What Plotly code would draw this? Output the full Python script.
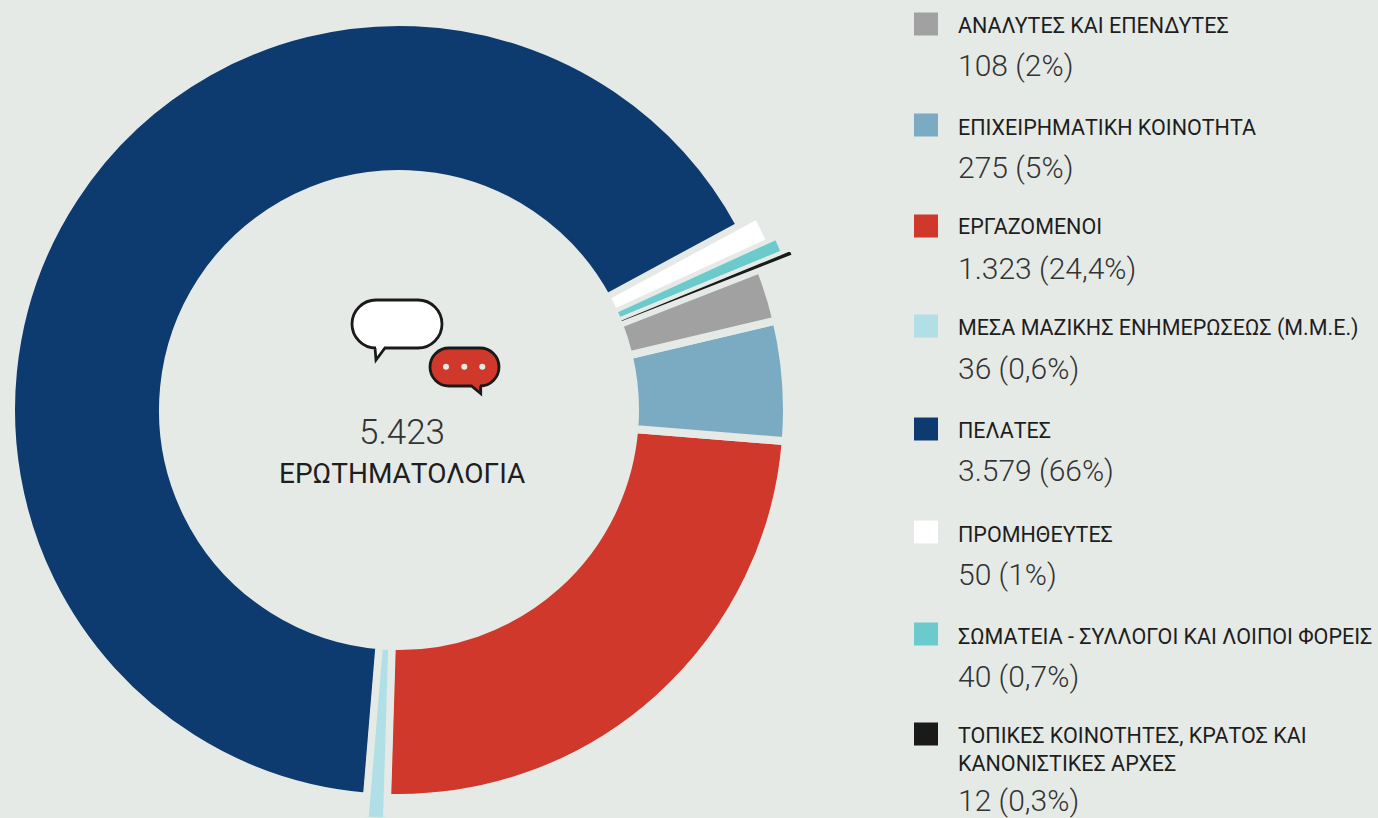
import plotly.graph_objects as go

W, H = 1378, 818
BG = "#E6EAE7"
INK = "#1E1E1E"

categories = ["ΠΕΛΑΤΕΣ", "ΠΡΟΜΗΘΕΥΤΕΣ", "ΣΩΜΑΤΕΙΑ - ΣΥΛΛΟΓΟΙ ΚΑΙ ΛΟΙΠΟΙ ΦΟΡΕΙΣ",
              "ΤΟΠΙΚΕΣ ΚΟΙΝΟΤΗΤΕΣ, ΚΡΑΤΟΣ ΚΑΙ<br>ΚΑΝΟΝΙΣΤΙΚΕΣ ΑΡΧΕΣ", "ΑΝΑΛΥΤΕΣ ΚΑΙ ΕΠΕΝΔΥΤΕΣ",
              "ΕΠΙΧΕΙΡΗΜΑΤΙΚΗ ΚΟΙΝΟΤΗΤΑ", "ΕΡΓΑΖΟΜΕΝΟΙ", "ΜΕΣΑ ΜΑΖΙΚΗΣ ΕΝΗΜΕΡΩΣΕΩΣ (Μ.Μ.Ε.)"]
# angular share of each slice, clockwise from the first one (degrees)
slice_degrees = [236.86, 3.85, 2.2, 1.05, 7.94, 17.98, 87.13, 2.99]
slice_colors = ["#0E3B6F", "#FFFFFF", "#6ACACC", "#1A1A1A", "#A1A1A1", "#7BABC2", "#D0382B", "#B1DFE6"]
# outer radius of each slice; the small slices stick out of the ring
slice_outer = [384, 404, 413, 422, 384, 384, 384, 430]
slice_gap = [8, 5.5, 4, 4, 8, 8, 8, 7]
inner_radius = 240
first_slice_end = 28.4   # angle where the first slice ends, going clockwise from there

legend_order = [4, 5, 6, 7, 0, 1, 2, 3]
legend_values = ["108 (2%)", "275 (5%)", "1.323 (24,4%)", "36 (0,6%)", "3.579 (66%)",
                 "50 (1%)", "40 (0,7%)", "12 (0,3%)"]
legend_label_y = [26, 127, 227, 328, 431, 534, 636, 749]
legend_value_y = [66, 167, 268, 368, 471, 574, 676, 800]
legend_square_y = [24, 125, 226, 326, 429, 532, 634, 734]
total_label = "5.423"
total_title = "ΕΡΩΤΗΜΑΤΟΛΟΓΙΑ"

# slice centres, clockwise from the end of the first slice
thetas = []
pos = first_slice_end
for i in list(range(1, 8)) + [0]:
    thetas.append((i, pos - slice_degrees[i] / 2))
    pos -= slice_degrees[i]
theta_of = dict(thetas)

CX, CY = 399, 410


def px(x):
    return x / W


def py(y):
    return 1 - y / H


def bars(idx, subplot):
    return go.Barpolar(
        subplot=subplot,
        theta=[theta_of[i] for i in idx],
        width=[slice_degrees[i] for i in idx],
        base=[inner_radius - slice_gap[i] / 2 for i in idx],
        r=[slice_outer[i] - inner_radius + slice_gap[i] for i in idx],
        marker=dict(color=[slice_colors[i] for i in idx],
                    line=dict(color=BG, width=[slice_gap[i] for i in idx])),
        hoverinfo="skip", showlegend=False)


fig = go.Figure()
fig.add_trace(bars([0, 6, 5, 4], "polar"))
fig.add_trace(bars([7], "polar3"))
fig.add_trace(bars([1, 2, 3], "polar2"))


def polar(dom_x, dom_y, r, sector):
    return dict(domain=dict(x=[px(dom_x[0]), px(dom_x[1])], y=[py(dom_y[1]), py(dom_y[0])]),
                sector=sector, bgcolor="rgba(0,0,0,0)", barmode="overlay",
                radialaxis=dict(visible=False, range=[0, r]),
                angularaxis=dict(visible=False, thetaunit="degrees"))


main_r = 399
top_r = 430
bottom_r = 408
fig.update_layout(
    width=W, height=H, autosize=False, margin=dict(l=0, r=0, t=0, b=0, pad=0),
    paper_bgcolor=BG, plot_bgcolor=BG, showlegend=False,
    polar=polar((CX - main_r, CX + main_r), (CY - main_r, CY + main_r), main_r, [0, 360]),
    polar2=polar((CX, CX + top_r), (CY - top_r * 0.70711, CY), top_r, [0, 45]),
    polar3=polar((CX - bottom_r * 0.17365, CX), (CY, CY + bottom_r), bottom_r, [260, 270]),
)

annotations = []
shapes = []


def text(x, y, s, size, family, color=INK, anchor="left", weight=400):
    annotations.append(dict(x=px(x), y=py(y), xref="paper", yref="paper", text=s, showarrow=False,
                            xanchor=anchor, yanchor="middle", align="left", borderpad=0, borderwidth=0,
                            font=dict(size=size, family=family, color=color, weight=weight)))


LABEL_FONT = "Roboto"
VALUE_FONT = "Roboto"
for row, i in enumerate(legend_order):
    y0 = legend_square_y[row] - 11.5
    shapes.append(dict(type="rect", xref="paper", yref="paper", x0=px(914), x1=px(938),
                       y0=py(y0), y1=py(y0 + 23), fillcolor=slice_colors[i], line=dict(width=0)))
    text(958, legend_label_y[row], categories[i], 21.5, LABEL_FONT)
    text(958, legend_value_y[row], legend_values[row], 30, VALUE_FONT, color="#333333", weight=300)

text(402, 432, total_label, 35, VALUE_FONT, color="#333333", anchor="center", weight=300)
text(402, 474, total_title, 28, LABEL_FONT, anchor="center")


def pt(x, y):
    return f"{px(x):.5f},{py(y):.5f}"


def bubble(x0, x1, y0, y1, tail, fill, lw):
    r = (y1 - y0) / 2
    k = 0.55 * r
    p = f"M{pt(x0 + r, y0)} L{pt(x1 - r, y0)} "
    p += f"C{pt(x1 - r + k, y0)} {pt(x1, y0 + r - k)} {pt(x1, y0 + r)} "
    p += f"C{pt(x1, y0 + r + k)} {pt(x1 - r + k, y1)} {pt(x1 - r, y1)} "
    p += f"L{pt(tail[2], y1)} L{pt(tail[1], tail[3])} L{pt(tail[0], y1)} L{pt(x0 + r, y1)} "
    p += f"C{pt(x0 + r - k, y1)} {pt(x0, y0 + r + k)} {pt(x0, y0 + r)} "
    p += f"C{pt(x0, y0 + r - k)} {pt(x0 + r - k, y0)} {pt(x0 + r, y0)} Z"
    shapes.append(dict(type="path", xref="paper", yref="paper", path=p, fillcolor=fill,
                       line=dict(color="#1A1A1A", width=lw)))


bubble(352, 442, 300, 348, (375, 376, 385, 360), "#FFFFFF", 2.8)
bubble(430, 499, 348, 386, (471.5, 480.7, 480.7, 393.5), "#D0382B", 2.8)
for dx in (446, 464.3, 482.3):
    shapes.append(dict(type="circle", xref="paper", yref="paper", x0=px(dx - 3), x1=px(dx + 3),
                       y0=py(363.7), y1=py(369.7), fillcolor=BG, line=dict(width=0)))

fig.update_layout(annotations=annotations, shapes=shapes)
fig.write_html("out.html", config=dict(displayModeBar=False),
               post_script="document.body.style.margin='0';document.body.style.background='" + BG + "';document.documentElement.style.overflow='hidden';")
